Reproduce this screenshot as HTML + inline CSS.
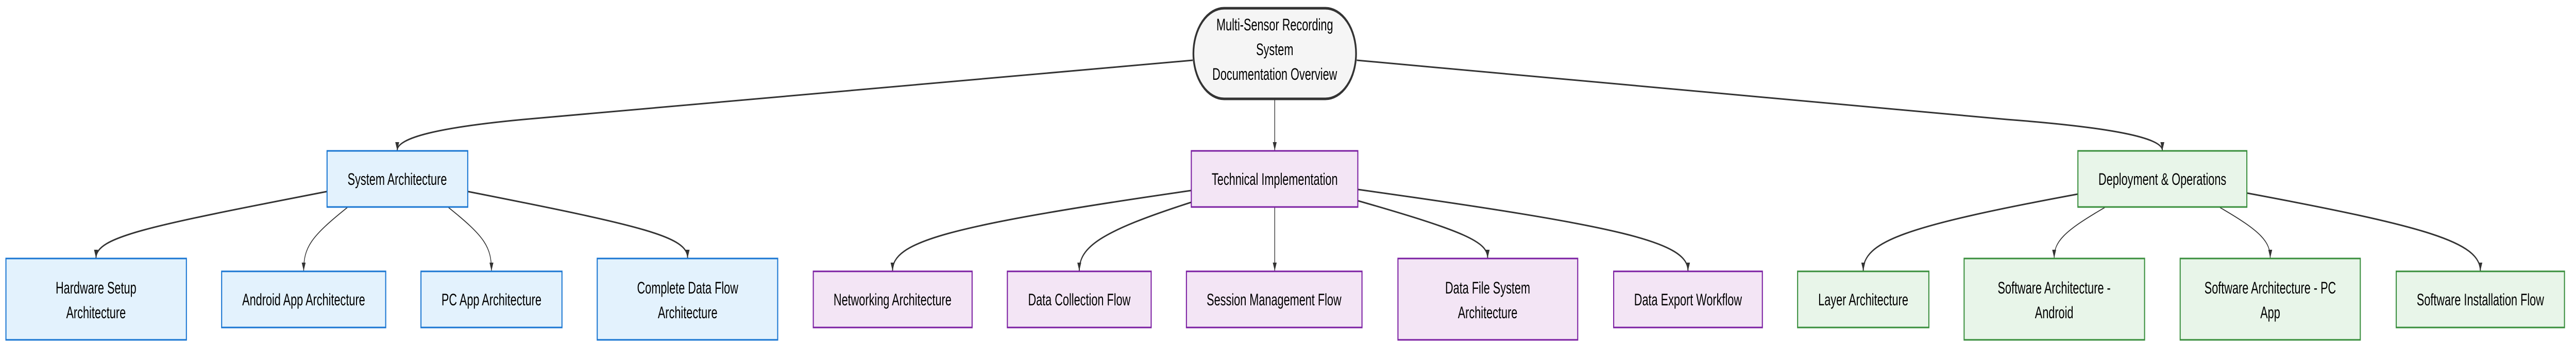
<!DOCTYPE html>
<html><head><meta charset="utf-8"><style>
html,body{margin:0;padding:0;background:#fff;width:100%;height:100%;overflow:hidden}
svg{display:block;position:absolute;left:0;top:0;width:100vw;height:100vh}
text{font-family:"Liberation Sans",Arial,sans-serif;font-size:32px;fill:#000;text-anchor:middle}
.bl{fill:#e3f2fd;stroke:#1976d2;stroke-width:3}
.pu{fill:#f3e5f5;stroke:#7b1fa2;stroke-width:3}
.gr{fill:#e8f5e9;stroke:#388e3c;stroke-width:3}
</style></head><body>
<svg viewBox="0 0 7380 670" preserveAspectRatio="none">
<defs>
<marker id="d" viewBox="0 0 10 10" refX="10" refY="5" markerWidth="16" markerHeight="16" markerUnits="userSpaceOnUse" orient="auto"><path d="M0,1.5 L10,5 L0,8.5 z" fill="#333"/></marker></defs>
<rect x="0" y="0" width="7380" height="670" fill="#fff"/>
<g fill="none" stroke="#333" stroke-width="3" marker-end="url(#d)">
<path d="M3417,117 L1500,232 Q1138,255 1138,292"/>
<path d="M3887,117 L5750,232 Q6195,255 6195,292"/>
<path d="M3652,194 L3652,292" stroke-width="2"/>
<path d="M936,372 C420,440 275,460 275,501"/>
<path d="M995,403 C890,460 870,480 870,526" stroke-width="2"/>
<path d="M1285,403 C1390,460 1408,480 1408,526" stroke-width="2"/>
<path d="M1341,372 C1850,440 1970,460 1970,501"/>
<path d="M3412,370 C2700,440 2557,470 2557,526"/>
<path d="M3412,393 C3150,450 3092,480 3092,526"/>
<path d="M3652,403 L3652,526" stroke-width="2"/>
<path d="M3891,390 C4200,450 4262,470 4262,501"/>
<path d="M3891,368 C4650,440 4836,470 4836,526"/>
<path d="M5952,377 C5450,440 5338,470 5338,526"/>
<path d="M6030,403 C5910,450 5885,470 5885,501" stroke-width="2"/>
<path d="M6360,403 C6480,450 6504,470 6504,501" stroke-width="2"/>
<path d="M6438,375 C6950,440 7106,470 7106,526"/>
</g>
<rect x="3419" y="16" width="466" height="176" rx="88" ry="88" fill="#f5f5f5" stroke="#333" stroke-width="5"/>
<text x="3652" y="59">Multi-Sensor Recording</text>
<text x="3652" y="107">System</text>
<text x="3652" y="155">Documentation Overview</text>

<rect class="bl" x="937" y="293" width="403" height="109"/><text x="1138" y="359">System Architecture</text>
<rect class="bl" x="17" y="502" width="517" height="158"/><text x="275" y="570">Hardware Setup</text><text x="275" y="618">Architecture</text>
<rect class="bl" x="635" y="527" width="470" height="109"/><text x="870" y="593">Android App Architecture</text>
<rect class="bl" x="1206" y="527" width="404" height="109"/><text x="1408" y="593">PC App Architecture</text>
<rect class="bl" x="1711" y="502" width="517" height="158"/><text x="1970" y="570">Complete Data Flow</text><text x="1970" y="618">Architecture</text>

<rect class="pu" x="3413" y="293" width="477" height="109"/><text x="3652" y="359">Technical Implementation</text>
<rect class="pu" x="2330" y="527" width="455" height="109"/><text x="2557" y="593">Networking Architecture</text>
<rect class="pu" x="2886" y="527" width="412" height="109"/><text x="3092" y="593">Data Collection Flow</text>
<rect class="pu" x="3399" y="527" width="503" height="109"/><text x="3650" y="593">Session Management Flow</text>
<rect class="pu" x="4005" y="502" width="515" height="158"/><text x="4262" y="570">Data File System</text><text x="4262" y="618">Architecture</text>
<rect class="pu" x="4623" y="527" width="426" height="109"/><text x="4836" y="593">Data Export Workflow</text>

<rect class="gr" x="5953" y="293" width="484" height="109"/><text x="6195" y="359">Deployment &amp; Operations</text>
<rect class="gr" x="5150" y="527" width="376" height="109"/><text x="5338" y="593">Layer Architecture</text>
<rect class="gr" x="5627" y="502" width="517" height="158"/><text x="5885" y="570">Software Architecture -</text><text x="5885" y="618">Android</text>
<rect class="gr" x="6246" y="502" width="516" height="158"/><text x="6504" y="570">Software Architecture - PC</text><text x="6504" y="618">App</text>
<rect class="gr" x="6865" y="527" width="482" height="109"/><text x="7106" y="593">Software Installation Flow</text>
</svg>
</body></html>
